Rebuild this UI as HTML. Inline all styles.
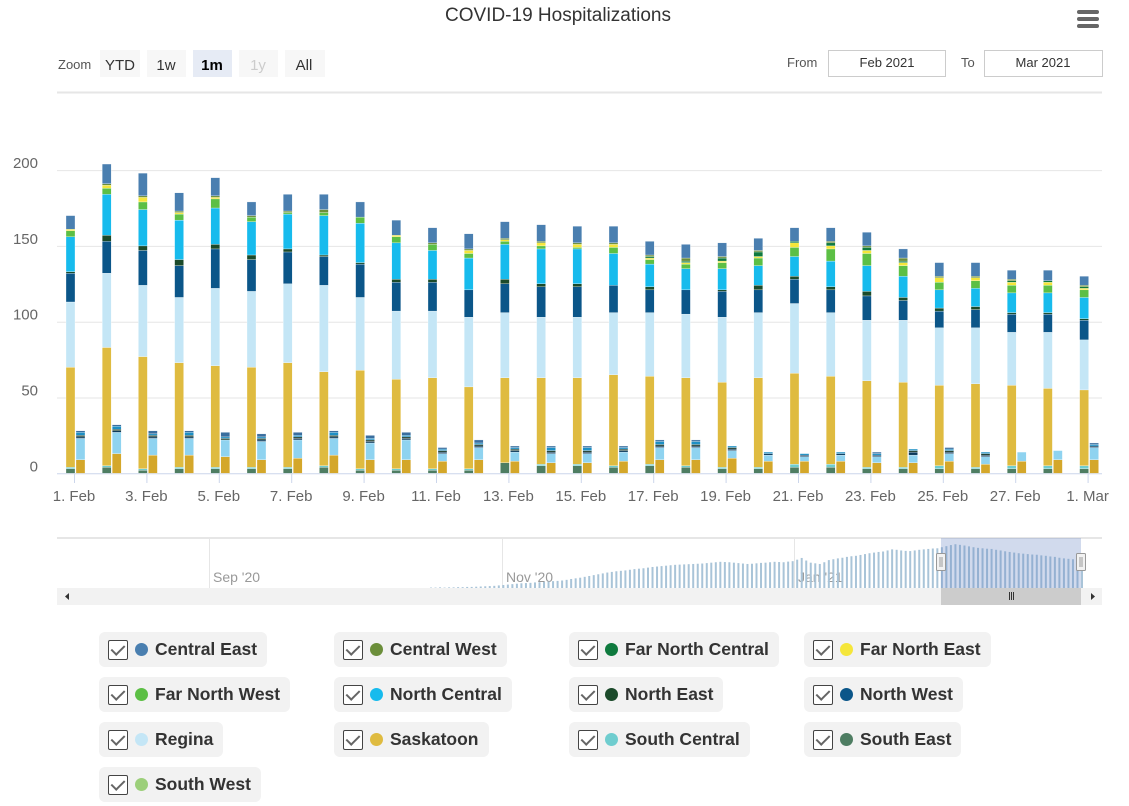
<!DOCTYPE html>
<html><head><meta charset="utf-8">
<style>
body{margin:0;width:1129px;height:806px;background:#fff;font-family:"Liberation Sans",sans-serif;overflow:hidden;position:relative}
.lg{position:absolute;height:35px;background:#f2f2f2;border-radius:6px;display:flex;align-items:center;padding:0 10px 0 9px;box-sizing:border-box;font-size:17.5px;font-weight:bold;color:#333;white-space:nowrap}
.cb{width:18px;height:18px;border:1px solid #444;border-radius:2px;margin-right:7px;position:relative;background:#fff}
.cb:after{content:"";position:absolute;left:5px;top:1px;width:6px;height:11px;border:solid #666;border-width:0 2px 2px 0;transform:rotate(45deg)}
.dot{width:13px;height:13px;border-radius:50%;margin-right:7px}
</style></head><body>
<svg id="chart" width="1129" height="620" style="position:absolute;left:0;top:0" font-family="Liberation Sans, sans-serif">
<text x="558" y="21" text-anchor="middle" font-size="19" fill="#333">COVID-19 Hospitalizations</text>
<g><rect x="1077" y="10" width="22" height="4" rx="2" fill="#666"/><rect x="1077" y="17" width="22" height="4" rx="2" fill="#666"/><rect x="1077" y="24" width="22" height="4" rx="2" fill="#666"/></g>
<text x="58" y="69" font-size="13" fill="#555">Zoom</text>
<g><rect x="100" y="50" width="40" height="27" fill="#f7f7f7"/><text x="120" y="70" text-anchor="middle" font-size="15" fill="#333">YTD</text></g>
<g><rect x="147" y="50" width="39" height="27" fill="#f7f7f7"/><text x="166" y="70" text-anchor="middle" font-size="15" fill="#333">1w</text></g>
<g><rect x="193" y="50" width="39" height="27" fill="#e6ebf5"/><text x="212" y="70" text-anchor="middle" font-size="15" font-weight="bold" fill="#000">1m</text></g>
<g><rect x="239" y="50" width="39" height="27" fill="#f7f7f7"/><text x="258" y="70" text-anchor="middle" font-size="15" fill="#ccc">1y</text></g>
<g><rect x="285" y="50" width="40" height="27" fill="#f7f7f7"/><text x="304" y="70" text-anchor="middle" font-size="15" fill="#333">All</text></g>
<text x="787" y="67" font-size="13" fill="#555">From</text>
<g><rect x="828.5" y="50.5" width="117" height="26" fill="#fff" stroke="#ccc"/><text x="887" y="67" text-anchor="middle" font-size="13" fill="#333">Feb 2021</text></g>
<text x="961" y="67" font-size="13" fill="#555">To</text>
<g><rect x="984.5" y="50.5" width="118" height="26" fill="#fff" stroke="#ccc"/><text x="1043" y="67" text-anchor="middle" font-size="13" fill="#333">Mar 2021</text></g>
<line x1="57" y1="92.5" x2="1102" y2="92.5" stroke="#e6e6e6" stroke-width="2"/>
<g id="grid"></g><g id="bars"></g><g id="xaxis"></g><g id="nav"></g>
</svg>
<div id="legend"></div>
<script>
const days=["1. Feb","2. Feb","3. Feb","4. Feb","5. Feb","6. Feb","7. Feb","8. Feb","9. Feb","10. Feb","11. Feb","12. Feb","13. Feb","14. Feb","15. Feb","16. Feb","17. Feb","18. Feb","19. Feb","20. Feb","21. Feb","22. Feb","23. Feb","24. Feb","25. Feb","26. Feb","27. Feb","28. Feb","1. Mar"];
const yTicks=[0,50,100,150,200];
// hospital (non-ICU) stacked series, bottom to top
const southWest=[0,0,0,0,0,0,0,0,0,0,0,0,0,0,0,0,0,0,0,0,0,0,0,0,0,0,0,0,0];
const southEast=[3,4,2,3,3,3,3,4,2,2,2,2,7,5,5,4,5,4,3,3,4,4,3,3,3,3,3,3,3];
const southCentral=[1,1,1,1,1,1,1,1,1,1,1,1,0,1,1,1,1,1,1,1,2,2,1,1,2,1,2,2,2];
const saskatoon=[66,78,74,69,67,66,69,62,65,59,60,54,56,57,57,60,58,58,56,59,60,58,57,56,53,55,53,51,50];
const regina=[43,49,47,43,51,50,52,57,48,45,44,46,43,40,40,41,42,42,43,43,46,42,40,41,38,37,35,37,33];
const northWest=[19,21,23,21,26,21,21,19,22,19,19,18,19,20,20,18,15,16,17,15,16,15,16,13,11,12,12,12,13];
const northEast=[1,4,3,4,3,3,2,1,1,2,2,0,3,2,2,0,2,0,1,3,2,2,3,2,2,2,1,1,1];
const northCentral=[23,27,24,26,24,22,23,26,26,24,19,21,23,23,23,21,15,14,14,13,13,17,17,14,12,12,13,13,14];
const farNorthWest=[4,4,5,4,6,3,1,2,4,4,4,3,2,2,1,4,3,3,4,5,6,8,8,7,5,5,5,5,5];
const farNorthEast=[1,2,3,1,1,0,0,0,0,1,0,2,1,2,2,2,1,1,1,1,3,2,2,2,3,2,2,2,1];
const farNorthCentral=[0,0,0,0,0,0,0,0,0,0,0,0,0,0,0,0,1,1,2,3,1,2,2,1,0,0,1,1,1];
const centralWest=[0,1,1,1,1,1,1,2,0,0,1,1,1,1,1,1,1,2,1,1,0,1,1,2,1,1,1,0,1];
const centralEast=[9,13,15,12,12,9,11,10,10,10,10,10,11,11,11,11,9,9,9,8,9,9,9,6,9,9,6,7,6];
// ICU stacked series
const icuSaskatoon=[9,13,12,12,11,9,10,12,9,9,8,9,8,7,7,8,9,9,10,8,8,8,7,7,8,6,8,9,9];
const icuRegina=[14,14,11,11,11,12,12,11,11,13,5,8,6,6,6,6,8,8,5,4,3,4,4,5,5,5,6,6,8];
const icuNorthWest=[1,1,1,1,0,1,1,1,1,1,1,1,1,1,1,1,1,1,1,1,1,1,1,2,1,1,0,0,1];
const icuNorthEast=[1,1,1,1,1,1,1,1,1,1,1,1,1,1,1,1,1,1,1,0,0,0,0,1,1,1,0,0,0];
const icuNorthCentral=[2,2,1,2,1,1,1,2,1,1,1,1,1,2,2,1,2,2,1,1,1,1,1,1,1,1,0,0,1];
const icuCentralEast=[1,1,2,1,3,2,2,1,2,2,1,2,1,1,1,1,1,1,0,0,0,0,1,0,1,0,0,0,1];
const navValues=[2,2,3,2,3,3,4,4,5,5,6,7,8,9,10,12,14,16,18,20,22,23,24,26,27,28,30,32,33,35,38,42,45,48,52,56,60,64,68,72,75,78,80,82,85,88,90,92,95,98,100,102,104,106,108,109,110,111,112,113,114,116,118,120,122,121,120,118,116,114,112,113,115,117,118,120,122,121,120,123,125,132,140,128,118,115,112,120,130,134,138,141,145,148,150,154,158,162,165,168,170,175,180,178,175,173,172,175,178,180,182,184,185,190,195,200,204,201,198,194,190,187,185,183,182,178,175,171,168,165,162,160,158,156,155,152,150,147,145,141,138,136,134,132,130];
const navLabels=["Sep '20","Nov '20","Jan '21"];
const navLabelPos=[0,1,2];

const NS="http://www.w3.org/2000/svg";
function mk(tag,attrs,parent){const e=document.createElementNS(NS,tag);for(const k in attrs)e.setAttribute(k,attrs[k]);parent.appendChild(e);return e;}
const y0=473.3, pxPer=75.8/50;
const yS=v=>y0-v*pxPer;
const xS=i=>74+i*36.2;
const grid=document.getElementById('grid');
yTicks.forEach(t=>{
  const l=mk('line',{x1:57,x2:1102,y1:yS(t)+0.5,y2:yS(t)+0.5,stroke:t===0?'#ccd6eb':'#e6e6e6','stroke-width':1},grid);
  
  
  const tx=mk('text',{x:38,y:yS(t)-2,'text-anchor':'end','font-size':15,fill:'#666'},grid);
  tx.textContent=t;
  
  
});
const hosp=[[southWest,'#9ccf7a','south-west'],[southEast,'#4e7d62','south-east'],[southCentral,'#6fcdcf','south-central'],[saskatoon,'#dfbb40','saskatoon'],[regina,'#c4e6f6','regina'],[northWest,'#0b5689','north-west'],[northEast,'#1b4a2a','north-east'],[northCentral,'#17bbed','north-central'],[farNorthWest,'#5cbf45','far-north-west'],[farNorthEast,'#f5e63a','far-north-east'],[farNorthCentral,'#0f7a3e','far-north-central'],[centralWest,'#6b8e3a','central-west'],[centralEast,'#4a7fb0','central-east']];
const icu=[[icuSaskatoon,'#d4a72a','saskatoon'],[icuRegina,'#8fd3f0','regina'],[icuNorthWest,'#0b3a5c','north-west'],[icuNorthEast,'#1b3a2a','north-east'],[icuNorthCentral,'#1d8fc4','north-central'],[icuCentralEast,'#3a6e9e','central-east']];
const bars=document.getElementById('bars');
function stack(series,xoff){
  days.forEach((d,i)=>{
    let acc=0;
    series.forEach(([arr,col,nm])=>{
      const v=arr[i]; if(!v){return;}
      const r=mk('rect',{x:xS(i)+xoff,width:9,y:yS(acc+v),height:v*pxPer,fill:col,stroke:'#fff','stroke-width':0.3},bars);
      
      
      acc+=v;
    });
  });
}
stack(hosp,-8);stack(icu,2);
const xa=document.getElementById('xaxis');
days.forEach((d,i)=>{
  if(i%2)return;
  mk('line',{x1:xS(i)+0.5,x2:xS(i)+0.5,y1:474,y2:483,stroke:'#ccd6eb'},xa);
  const t=mk('text',{x:xS(i),y:501,'text-anchor':'middle','font-size':15,fill:'#666'},xa);
  t.textContent=d;
  
  
});
// navigator
const nav=document.getElementById('nav');
mk('line',{x1:57,x2:1102,y1:538,y2:538,stroke:'#ddd','stroke-width':1.5},nav);
[209,502,794].forEach((x,k)=>{
  mk('line',{x1:x+0.5,x2:x+0.5,y1:538,y2:588,stroke:'#e6e6e6'},nav);
  const t=mk('text',{x:x+4,y:582,'font-size':14,fill:'#999'},nav);
  t.textContent=navLabels[navLabelPos[k]];
  
  
});
const nStep=(1081-430)/(navValues.length-1);
navValues.forEach((v,i)=>{
  const h=v*44/205;
  const r=mk('rect',{x:430+i*nStep,y:588-h,width:2,height:h,fill:'#a9c4d8'},nav);
  
  
});
const sel=mk('rect',{x:941,y:538,width:140,height:50,fill:'rgba(102,133,194,0.3)'},nav);


[941,1081].forEach(x=>{
  const h=mk('rect',{x:x-4.5,y:553.5,width:9,height:17,rx:1,fill:'#f2f2f2',stroke:'#999'},nav);
  
  
  mk('line',{x1:x-1,x2:x-1,y1:557,y2:567,stroke:'#999'},nav);mk('line',{x1:x+1,x2:x+1,y1:557,y2:567,stroke:'#999'},nav);
});
const sb=mk('rect',{x:57,y:588,width:1045,height:17,fill:'#f2f2f2'},nav);


const th=mk('rect',{x:941,y:588,width:140,height:17,fill:'#cccccc'},nav);


[1009,1011,1013].forEach(x=>mk('line',{x1:x+0.5,x2:x+0.5,y1:592,y2:600,stroke:'#333'},nav));
mk('path',{d:'M69 593 L65 596.5 L69 600 Z',fill:'#333'},nav);
mk('path',{d:'M1091 593 L1095 596.5 L1091 600 Z',fill:'#333'},nav);
// legend
const legendNames=["Central East","Central West","Far North Central","Far North East","Far North West","North Central","North East","North West","Regina","Saskatoon","South Central","South East","South West"];
const legendColors=["#4a7fb0","#6b8e3a","#0f7a3e","#f5e63a","#5cbf45","#17bbed","#1b4a2a","#0b5689","#c4e6f6","#dfbb40","#6fcdcf","#4e7d62","#9ccf7a"];
const lg=document.getElementById('legend');
const colX=[99,334,569,804];
legendNames.forEach((n,i)=>{
  const d=document.createElement('div');
  d.className='lg';
  d.style.left=colX[i%4]+'px';d.style.top=(632+Math.floor(i/4)*45)+'px';
  d.innerHTML='<span class="cb"></span><span class="dot" style="background:'+legendColors[i]+'"></span>'+n;
  
  
  lg.appendChild(d);
});
</script>
</body></html>
